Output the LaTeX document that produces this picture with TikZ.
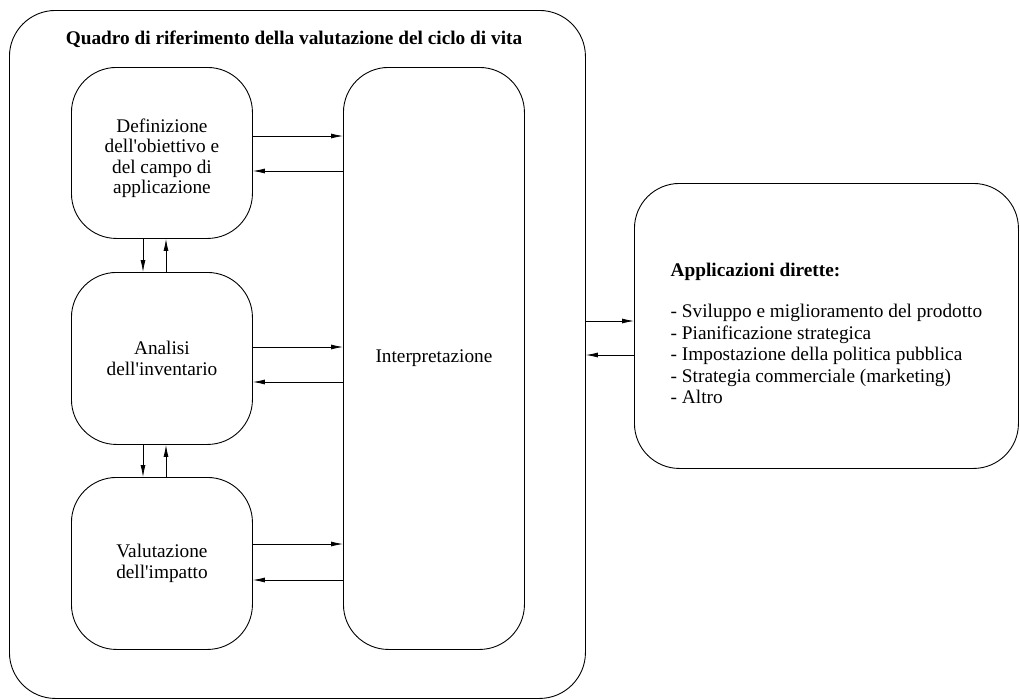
\documentclass[tikz,border=0pt]{standalone}
\usepackage{fontspec}
\setmainfont{Liberation Serif}[Ligatures=TeXOff]
\usetikzlibrary{arrows.meta}
\begin{document}
\begin{tikzpicture}[x=1pt,y=-1pt,
  box/.style={draw, line width=0.9pt, rounded corners=45pt, align=center,
    font=\fontsize{19.3}{20.5}\selectfont, inner sep=0pt, anchor=north west},
  arr/.style={-{Latex[length=12pt,width=5pt]}, line width=0.8pt}]
\useasboundingbox (0,0) rectangle (1020,699);
\node[box, rounded corners=46pt, minimum width=576, minimum height=688] (outer) at (9,10) {};
\node[font=\fontsize{19.3}{20}\selectfont\bfseries] (title) at (294,39) {Quadro di riferimento della valutazione del ciclo di vita};
\node[box, minimum width=181, minimum height=171] (def) at (71,67) {\rule{0pt}{24pt}Definizione\\dell'obiettivo e\\del campo di\\applicazione};
\node[box, minimum width=181, minimum height=172] (inv) at (71,272) {Analisi\\dell'inventario};
\node[box, minimum width=181, minimum height=172] (imp) at (71,477) {Valutazione\\dell'impatto};
\node[box, minimum width=181, minimum height=582] (interp) at (343,67) {Interpretazione};
\node[box, minimum width=384, minimum height=285, align=left,
  font=\fontsize{19.3}{21.5}\selectfont] (app) at (634,183)
  {\rule{0pt}{28pt}\textbf{Applicazioni dirette:}\\[20pt]
   - Sviluppo e miglioramento del prodotto\\
   - Pianificazione strategica\\
   - Impostazione della politica pubblica\\
   - Strategia commerciale (marketing)\\
   - Altro};
% horizontal arrows
\draw[arr] ([yshift=-69pt]def.north east) -- ([yshift=-69pt]def.north east -| interp.west);
\draw[arr] ([yshift=-104pt]def.north east -| interp.west) -- ([yshift=-104pt]def.north east);
\draw[arr] ([yshift=-75pt]inv.north east) -- ([yshift=-75pt]inv.north east -| interp.west);
\draw[arr] ([yshift=-110pt]inv.north east -| interp.west) -- ([yshift=-110pt]inv.north east);
\draw[arr] ([yshift=-67pt]imp.north east) -- ([yshift=-67pt]imp.north east -| interp.west);
\draw[arr] ([yshift=-103pt]imp.north east -| interp.west) -- ([yshift=-103pt]imp.north east);
% vertical arrows
\draw[arr] ([xshift=72pt]def.south west) -- ([xshift=72pt]def.south west |- inv.north);
\draw[arr] ([xshift=95pt]inv.north west) -- ([xshift=95pt]inv.north west |- def.south);
\draw[arr] ([xshift=72pt]inv.south west) -- ([xshift=72pt]inv.south west |- imp.north);
\draw[arr] ([xshift=95pt]imp.north west) -- ([xshift=95pt]imp.north west |- inv.south);
% outer to applications
\draw[arr] ([yshift=-311pt]outer.north east) -- ([yshift=-311pt]outer.north east -| app.west);
\draw[arr] ([yshift=-345pt]outer.north east -| app.west) -- ([yshift=-345pt]outer.north east);
\end{tikzpicture}
\end{document}
